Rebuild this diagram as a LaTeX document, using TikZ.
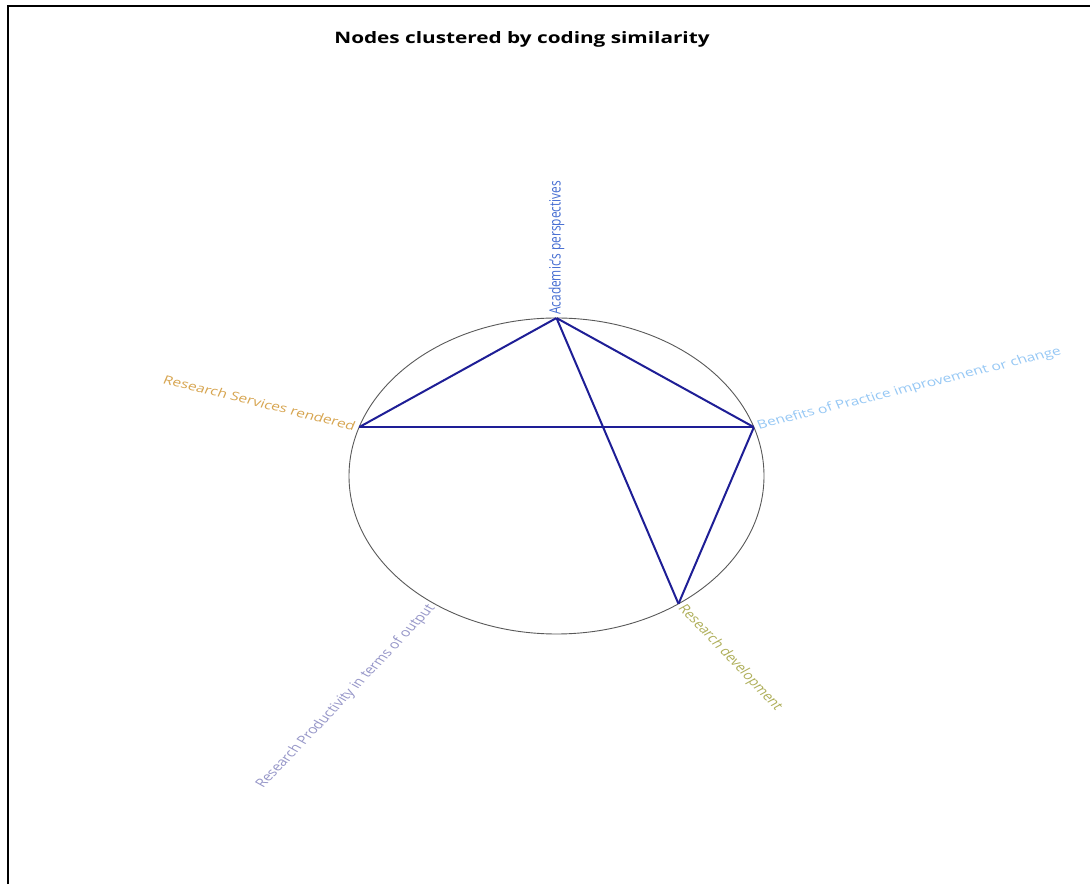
\documentclass[tikz,border=0pt]{standalone}
\usepackage{fontspec}
\setmainfont{Open Sans}
\usetikzlibrary{positioning}
\definecolor{edgecol}{RGB}{30,30,150}
\definecolor{acadcol}{RGB}{70,110,210}
\definecolor{benefcol}{RGB}{150,200,245}
\definecolor{servcol}{RGB}{215,165,80}
\definecolor{devcol}{RGB}{175,175,90}
\definecolor{prodcol}{RGB}{150,150,200}
\tikzset{
  vert/.style  = {circle, inner sep=0pt, minimum size=0pt},
  lbl/.style   = {font=\fontsize{11.9}{14}\selectfont, inner sep=3pt, transform shape},
  link/.style  = {edgecol, line width=2pt},
  rim/.style   = {draw=black!65, line width=0.9pt},
  frame/.style = {draw=black, line width=1.5pt},
  title/.style = {font=\bfseries\fontsize{15.8}{19}\selectfont, xscale=1.3133},
}
\begin{document}
\begin{tikzpicture}[x=1pt, y=1pt]
  \fill[white] (0,0) rectangle (1090,884);
  \useasboundingbox (0,0) rectangle (1090,884);
  \draw[frame] (8,0) -- (8,878) -- (1090,878);
  \node[title] (title) at (522,845) {Nodes clustered by coding similarity};
  % circle layout, stretched sideways
  \begin{scope}[shift={(556.5,408)}, xscale=1.3133]
    \draw[rim] (0,0) circle (158);
    \node[vert] (acad)  at (90:158)   {};
    \node[vert] (benef) at (18:158)   {};
    \node[vert] (dev)   at (-54:158)  {};
    \node[vert] (prod)  at (-126:158) {};
    \node[vert] (serv)  at (162:158)  {};
    \draw[link] (acad) -- (serv);
    \draw[link] (acad) -- (benef);
    \draw[link] (acad) -- (dev);
    \draw[link] (serv) -- (benef);
    \draw[link] (benef) -- (dev);
    \node[lbl, text=acadcol, rotate=90, anchor=west] (acadlbl) at (acad) {Academic's perspectives};
    \node[lbl, text=benefcol, rotate=18, anchor=west] (beneflbl) at (benef) {Benefits of Practice improvement or change};
    \node[lbl, text=devcol, rotate=-54, anchor=west] (devlbl) at (dev) {Research development};
    \node[lbl, text=prodcol, rotate=54, anchor=east] (prodlbl) at (prod) {Research Productivity in terms of output};
    \node[lbl, text=servcol, rotate=-18, anchor=east] (servlbl) at (serv) {Research Services rendered};
  \end{scope}
\end{tikzpicture}
\end{document}
